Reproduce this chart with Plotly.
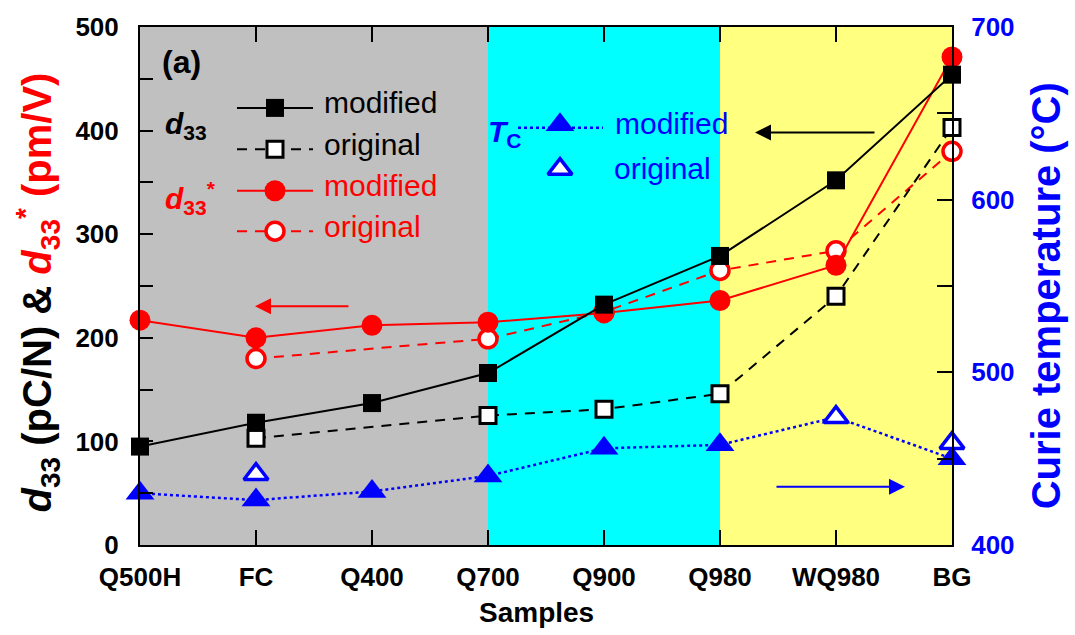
import plotly.graph_objects as go

# ---------------- data ----------------
samples = ["Q500H", "FC", "Q400", "Q700", "Q900", "Q980", "WQ980", "BG"]
d33_modified = [95, 118, 137, 166, 232, 279, 352, 454]
d33_original = [None, 103, None, 125, 131, 146, 240, 403]
d33s_modified = [217, 200, 212, 215, 224, 236, 270, 471]
d33s_original = [None, 180, None, 199, 225, 265, 284, 380]
tc_modified = [430, 426, 431, 440, 456, 458, 474, 450]
tc_original = [None, 441, None, None, None, None, 474, 459]
left_ticks = [0, 100, 200, 300, 400, 500]
right_ticks = [400, 500, 600, 700]

# background bands (category index ranges)
bands = [(0, 3, "#C0C0C0"), (3, 5, "#00FFFF"), (5, 7, "#FFFF80")]

FONT = "Liberation Sans"
BLACK, RED, BLUE = "#000000", "#FF0000", "#0000FF"
xs = list(range(len(samples)))

# plot-area geometry in pixels (for placing decorations)
PL, PR, PT, PB = 140, 952, 20, 545


def px(x):
    return (x - PL) / (PR - PL)


def py(y):
    return (PB - y) / (PB - PT)


fig = go.Figure()

# Tc traces (right axis)
fig.add_trace(go.Scatter(x=xs, y=tc_modified, mode="lines+markers", yaxis="y2",
                         line=dict(color=BLUE, width=2.5, dash="dot"),
                         marker=dict(symbol="triangle-up", size=25, color=BLUE),
                         cliponaxis=False, showlegend=False))
fig.add_trace(go.Scatter(x=xs, y=tc_original, mode="markers", yaxis="y2",
                         marker=dict(symbol="triangle-up", size=21, color="white",
                                     line=dict(color=BLUE, width=3.5)),
                         cliponaxis=False, showlegend=False))

# d33* traces
fig.add_trace(go.Scatter(x=xs, y=d33s_original, mode="lines+markers", connectgaps=True,
                         line=dict(color=RED, width=2, dash="10px,8px"),
                         marker=dict(symbol="circle", size=18, color="white",
                                     line=dict(color=RED, width=3.5)),
                         cliponaxis=False, showlegend=False))
fig.add_trace(go.Scatter(x=xs, y=d33s_modified, mode="lines+markers",
                         line=dict(color=RED, width=2),
                         marker=dict(symbol="circle", size=21, color=RED),
                         cliponaxis=False, showlegend=False))

# d33 traces
fig.add_trace(go.Scatter(x=xs, y=d33_original, mode="lines+markers", connectgaps=True,
                         line=dict(color=BLACK, width=2, dash="10px,8px"),
                         marker=dict(symbol="square", size=16, color="white",
                                     line=dict(color=BLACK, width=3)),
                         cliponaxis=False, showlegend=False))
fig.add_trace(go.Scatter(x=xs, y=d33_modified, mode="lines+markers",
                         line=dict(color=BLACK, width=2),
                         marker=dict(symbol="square", size=18, color=BLACK),
                         cliponaxis=False, showlegend=False))

# ---------------- legend keys on a pixel-based overlay axis ----------------
legend_rows = [
    (102, BLACK, "solid", "square", 18, BLACK, BLACK, 0, "modified"),
    (144, BLACK, "10px,8px", "square", 16, "white", BLACK, 3, "original"),
    (186, RED, "solid", "circle", 21, RED, RED, 0, "modified"),
    (227, RED, "10px,8px", "circle", 18, "white", RED, 3.5, "original"),
]
for (yy, col, dash, sym, sz, fill, lc, lw, lab) in legend_rows:
    fig.add_trace(go.Scatter(x=[237, 313], y=[yy, yy], mode="lines", xaxis="x3", yaxis="y3",
                             line=dict(color=col, width=2, dash=dash),
                             cliponaxis=False, showlegend=False, hoverinfo="skip"))
    fig.add_trace(go.Scatter(x=[275], y=[yy], mode="markers", xaxis="x3", yaxis="y3",
                             marker=dict(symbol=sym, size=sz, color=fill, line=dict(color=lc, width=lw)),
                             cliponaxis=False, showlegend=False, hoverinfo="skip"))
    fig.add_annotation(x=322, y=yy - 5, xref="x3", yref="y3", text=lab, showarrow=False,
                       xanchor="left", yanchor="middle",
                       font=dict(family=FONT, size=30, color=col))

# Tc legend keys
fig.add_trace(go.Scatter(x=[518, 603], y=[122, 122], mode="lines", xaxis="x3", yaxis="y3",
                         line=dict(color=BLUE, width=2.5, dash="dot"),
                         cliponaxis=False, showlegend=False, hoverinfo="skip"))
fig.add_trace(go.Scatter(x=[560], y=[119], mode="markers", xaxis="x3", yaxis="y3",
                         marker=dict(symbol="triangle-up", size=25, color=BLUE),
                         cliponaxis=False, showlegend=False, hoverinfo="skip"))
fig.add_trace(go.Scatter(x=[560], y=[164], mode="markers", xaxis="x3", yaxis="y3",
                         marker=dict(symbol="triangle-up", size=21, color="white",
                                     line=dict(color=BLUE, width=3.5)),
                         cliponaxis=False, showlegend=False, hoverinfo="skip"))
fig.add_annotation(x=613, y=118, xref="x3", yref="y3", text="modified", showarrow=False,
                   xanchor="left", yanchor="middle", font=dict(family=FONT, size=30, color=BLUE))
fig.add_annotation(x=612, y=163, xref="x3", yref="y3", text="original", showarrow=False,
                   xanchor="left", yanchor="middle", font=dict(family=FONT, size=30, color=BLUE))
fig.add_annotation(x=486, y=128, xref="x3", yref="y3", text="<b><i>T</i><sub>C</sub></b>",
                   showarrow=False, xanchor="left", yanchor="middle",
                   font=dict(family=FONT, size=30, color=BLUE))

# group labels
fig.add_annotation(x=163, y=120, xref="x3", yref="y3", text="<b><i>d</i><sub>33</sub></b>",
                   showarrow=False, xanchor="left", yanchor="middle",
                   font=dict(family=FONT, size=30, color=BLACK))
fig.add_annotation(x=163, y=193, xref="x3", yref="y3", text="<b><i>d</i><sub>33</sub><sup>*</sup></b>",
                   showarrow=False, xanchor="left", yanchor="middle",
                   font=dict(family=FONT, size=30, color=RED))
fig.add_annotation(x=160, y=55, xref="x3", yref="y3", text="<b>(a)</b>",
                   showarrow=False, xanchor="left", yanchor="middle",
                   font=dict(family=FONT, size=32, color=BLACK))

# arrows
arrow_defs = [(755, 127, 121, BLACK), (255, 303, 95, RED), (905, 486, -130, BLUE)]
for hx, hy, axo, col in arrow_defs:
    fig.add_annotation(x=hx, y=hy, xref="x3", yref="y3", ax=axo, ay=0, text="",
                       showarrow=True, arrowhead=2, arrowsize=1.6, arrowwidth=2, arrowcolor=col)

# axis titles (paper coordinates)
fig.add_annotation(x=px(38), y=py(289), xref="paper", yref="paper", textangle=-90, showarrow=False,
                   xanchor="center", yanchor="middle",
                   text="<b><i>d</i><sub>33</sub> (pC/N) &amp; <span style='color:#FF0000'><i>d</i><sub>33</sub><sup>*</sup> (pm/V)</span></b>",
                   font=dict(family=FONT, size=40, color=BLACK))
fig.add_annotation(x=px(1046), y=py(293), xref="paper", yref="paper", textangle=-90, showarrow=False,
                   xanchor="center", yanchor="middle",
                   text="<b>Curie temperature (°C)</b>",
                   font=dict(family=FONT, size=40, color=BLUE))
fig.add_annotation(x=px(536), y=py(613), xref="paper", yref="paper", showarrow=False,
                   xanchor="center", yanchor="middle",
                   text="<b>Samples</b>", font=dict(family=FONT, size=28, color=BLACK))

# background bands
for x0, x1, c in bands:
    fig.add_shape(type="rect", xref="x", yref="y domain", x0=x0, x1=x1, y0=0, y1=1,
                  fillcolor=c, line=dict(width=0), layer="below")

fig.update_layout(
    width=1075, height=635,
    margin=dict(l=PL, r=1075 - PR, t=PT, b=635 - PB),
    paper_bgcolor="white", plot_bgcolor="white",
    xaxis=dict(range=[0, 7], tickvals=xs, ticktext=samples, showgrid=False, zeroline=False,
               showline=True, linecolor=BLACK, linewidth=2, mirror="ticks",
               ticks="inside", ticklen=15, tickwidth=2, tickcolor=BLACK,
               ticklabelstandoff=8,
               tickfont=dict(family=FONT, size=26, color=BLACK, weight="bold")),
    yaxis=dict(range=[0, 500], tickvals=left_ticks, showgrid=False, zeroline=False,
               showline=True, linecolor=BLACK, linewidth=2,
               ticks="inside", ticklen=13, tickwidth=2, tickcolor=BLACK,
               minor=dict(dtick=50, ticks="inside", ticklen=13, tickwidth=2, tickcolor=BLACK),
               ticklabelstandoff=14,
               tickfont=dict(family=FONT, size=26, color=BLACK, weight="bold")),
    yaxis2=dict(range=[400, 700], tickvals=right_ticks, overlaying="y", side="right",
                showgrid=False, zeroline=False, showline=True, linecolor=BLACK, linewidth=2,
                ticks="inside", ticklen=15, tickwidth=2, tickcolor=BLACK,
                minor=dict(dtick=50, ticks="inside", ticklen=15, tickwidth=2, tickcolor=BLACK),
                ticklabelstandoff=12,
                tickfont=dict(family=FONT, size=26, color=BLUE, weight="bold")),
    xaxis3=dict(range=[PL, PR], overlaying="x", anchor="y3", visible=False, fixedrange=True),
    yaxis3=dict(range=[PB, PT], overlaying="y", anchor="x3", visible=False, fixedrange=True),
)

fig.write_html("out.html")
